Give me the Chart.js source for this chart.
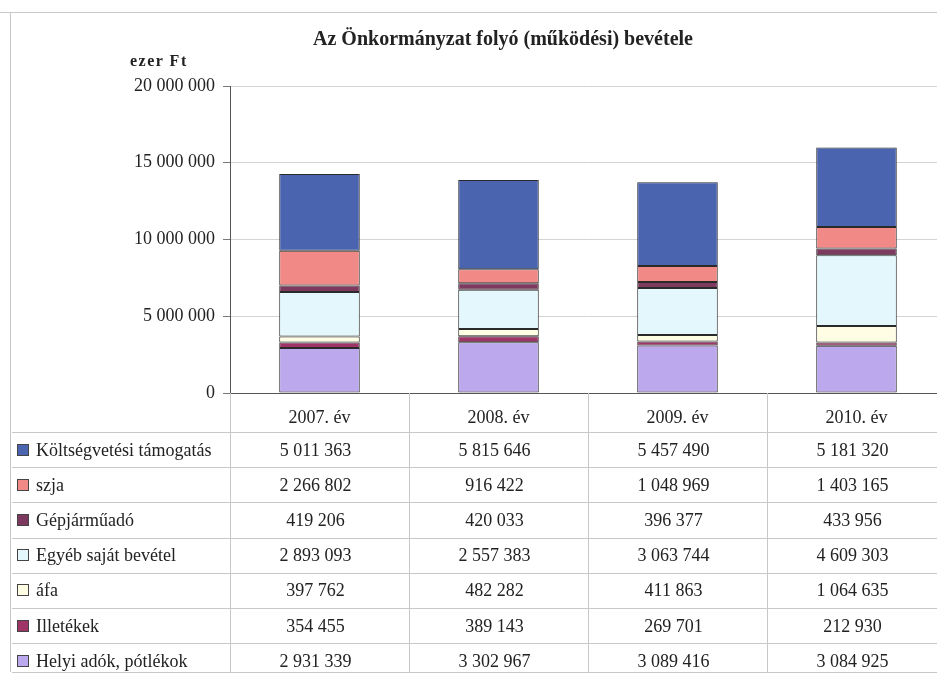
<!DOCTYPE html>
<html><head><meta charset="utf-8">
<script src="https://cdn.jsdelivr.net/npm/chart.js@4.4.1/dist/chart.umd.min.js"></script>
<style>
html,body{margin:0;padding:0;background:#fff;width:937px;height:685px;overflow:hidden}
#wrap{position:relative;width:937px;height:685px;overflow:hidden}
#c{position:absolute;left:0;top:0}
#ov{position:absolute;left:0;top:0;width:950px;height:685px;font-family:"Liberation Serif","Times New Roman",serif;color:#222}
.cell{position:absolute;white-space:nowrap;font-size:18px;line-height:20px}
.sw{display:inline-block;width:10px;height:10px;border:1px solid #444;margin-right:7px;vertical-align:0px}
#title{position:absolute;left:0;width:1006px;top:26px;text-align:center;font-weight:bold;font-size:20px;line-height:24px}
#unit{position:absolute;left:130px;top:52px;font-weight:bold;font-size:16px;letter-spacing:1.5px}
</style></head>
<body><div id="wrap"><canvas id="c" width="950" height="685"></canvas><div id="ov">
<div id="title">Az Önkormányzat folyó (működési) bevétele</div>
<div id="unit">ezer Ft</div>
</div></div>
<script>
const categories = ['2007. év','2008. év','2009. év','2010. év'];
// table order (top to bottom)
const seriesNames = ['Költségvetési támogatás','szja','Gépjárműadó','Egyéb saját bevétel','áfa','Illetékek','Helyi adók, pótlékok'];
const koltsegvetesi = [5011363, 5815646, 5457490, 5181320];
const szja          = [2266802,  916422, 1048969, 1403165];
const gepjarmu      = [ 419206,  420033,  396377,  433956];
const egyeb         = [2893093, 2557383, 3063744, 4609303];
const afa           = [ 397762,  482282,  411863, 1064635];
const illetekek     = [ 354455,  389143,  269701,  212930];
const helyiAdok     = [2931339, 3302967, 3089416, 3084925];
const seriesValues = [koltsegvetesi, szja, gepjarmu, egyeb, afa, illetekek, helyiAdok];
const seriesColors = ['#4a64b0','#f18a86','#7e3a5e','#e3f7fc','#fffee4','#9e3566','#bca8ec'];
const yTicks = [0, 5000000, 10000000, 15000000, 20000000];

const fmt = v => String(v).replace(/\B(?=(\d{3})+(?!\d))/g, ' ');

// datasets bottom-first
const datasets = seriesNames.map((name,i)=>({
  label:name, data:seriesValues[i], backgroundColor:seriesColors[i],
  borderColor:'#2a2a2a', borderWidth:1, borderSkipped:false,
  categoryPercentage:1, barPercentage:0.45
})).reverse();

const ROW_TOP = 432, ROW_H = 35.2, TABLE_BOTTOM = 672, TABLE_LEFT = 12, FRAME_LEFT = 10, FRAME_TOP = 12;

const tablePlugin = {
  id:'tableLines',
  afterDraw(chart){
    const ctx = chart.ctx, a = chart.chartArea, n = categories.length;
    const cw = (a.right - a.left)/n;
    ctx.save();
    ctx.strokeStyle = '#c8c8c8'; ctx.lineWidth = 1;
    ctx.beginPath();
    ctx.moveTo(0, FRAME_TOP+0.5); ctx.lineTo(chart.width, FRAME_TOP+0.5);
    ctx.moveTo(FRAME_LEFT+0.5, FRAME_TOP); ctx.lineTo(FRAME_LEFT+0.5, TABLE_BOTTOM);
    for(let i=0;i<seriesNames.length;i++){
      const y = Math.round(ROW_TOP + i*ROW_H)+0.5;
      ctx.moveTo(TABLE_LEFT, y); ctx.lineTo(chart.width, y);
    }
    ctx.moveTo(TABLE_LEFT, TABLE_BOTTOM+0.5); ctx.lineTo(chart.width, TABLE_BOTTOM+0.5);
    for(let j=0;j<=n;j++){
      const x = Math.round(a.left + j*cw)+0.5;
      ctx.moveTo(x, a.bottom); ctx.lineTo(x, TABLE_BOTTOM);
    }
    ctx.stroke();
    ctx.restore();
  }
};

const chart = new Chart(document.getElementById('c'), {
  type:'bar',
  data:{labels:categories, datasets},
  plugins:[tablePlugin],
  options:{
    responsive:false, animation:false,
    layout:{padding:{top:86,right:4,left:0,bottom:0}},
    plugins:{legend:{display:false},title:{display:false},tooltip:{enabled:false}},
    scales:{
      x:{stacked:true, offset:true,
         grid:{display:false},
         border:{display:true,color:'#555',width:1},
         ticks:{color:'#222',padding:6,font:{family:'"Liberation Serif", serif',size:18}},
         afterFit(s){ s.height = 685-393; }
      },
      y:{stacked:true, min:0, max:20000000,
         afterBuildTicks(s){ s.ticks = yTicks.map(v=>({value:v})); },
         grid:{color:'#d4d4d4',tickLength:7,tickColor:'#777'},
         border:{display:true,color:'#555',width:1},
         ticks:{color:'#222',padding:8,font:{family:'"Liberation Serif", serif',size:18},callback:v=>fmt(v)},
         afterFit(s){ s.width = 230; }
      }
    }
  }
});

// table text overlay
(function(){
  const ov = document.getElementById('ov');
  const xs = chart.scales.x;
  seriesNames.forEach((name,i)=>{
    const cy = ROW_TOP + i*ROW_H + ROW_H/2;
    const lab = document.createElement('div');
    lab.className='cell';
    lab.style.left='17px'; lab.style.top=(cy-10)+'px';
    lab.innerHTML='<span class="sw" style="background:'+seriesColors[i]+'"></span>';
    lab.appendChild(document.createTextNode(name));
    ov.appendChild(lab);
    seriesValues[i].forEach((v,j)=>{
      const c = document.createElement('div');
      c.className='cell';
      c.style.left=(xs.getPixelForValue(j)-4-100)+'px'; c.style.width='200px'; c.style.textAlign='center';
      c.style.top=(cy-10)+'px';
      c.textContent = fmt(v);
      ov.appendChild(c);
    });
  });
})();
</script></body></html>
